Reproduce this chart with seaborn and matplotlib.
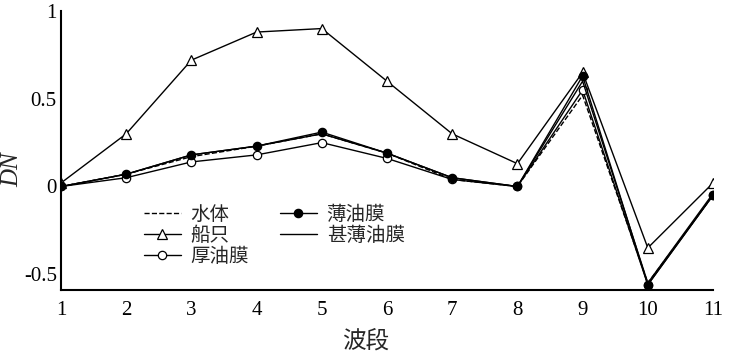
import matplotlib
matplotlib.use("Agg")
import matplotlib.pyplot as plt
import seaborn as sns
import pandas as pd

bands = [1, 2, 3, 4, 5, 6, 7, 8, 9, 10, 11]
water = [0.00, 0.07, 0.17, 0.23, 0.30, 0.19, 0.04, 0.00, 0.52, -0.55, -0.05]
ship = [0.02, 0.30, 0.72, 0.88, 0.90, 0.60, 0.30, 0.13, 0.65, -0.35, 0.02]
thick = [0.00, 0.05, 0.14, 0.18, 0.25, 0.16, 0.04, 0.00, 0.55, -0.56, -0.05]
thin = [0.00, 0.07, 0.18, 0.23, 0.31, 0.19, 0.05, 0.00, 0.63, -0.56, -0.05]
vthin = [0.00, 0.07, 0.18, 0.23, 0.30, 0.19, 0.05, 0.00, 0.60, -0.55, -0.04]
names = ["水体", "船只", "厚油膜", "薄油膜", "甚薄油膜"]
xticks = [1, 2, 3, 4, 5, 6, 7, 8, 9, 10, 11]
yticks = [-0.5, 0, 0.5, 1]
ytick_labels = ["-0.5", "0", "0.5", "1"]

sns.set_style("white")
plt.rcParams['font.family'] = ['Liberation Serif', 'Noto Sans CJK SC']

fig = plt.figure(figsize=(7.31, 3.55), dpi=100)
ax = fig.add_axes([0.0834, 0.183, 0.892, 0.786])

styles = [
    dict(linestyle='--', marker=None),
    dict(linestyle='-', marker='^', markerfacecolor='white', markeredgecolor='black', markersize=7),
    dict(linestyle='-', marker='o', markerfacecolor='white', markeredgecolor='black', markersize=6),
    dict(linestyle='-', marker='o', markerfacecolor='black', markeredgecolor='black', markersize=6),
    dict(linestyle='-', marker=None),
]
series = [water, ship, thick, thin, vthin]
for name, vals, st in zip(names, series, styles):
    df = pd.DataFrame({"band": bands, "DN": vals})
    sns.lineplot(data=df, x="band", y="DN", ax=ax, color='black', linewidth=1.0,
                 label=name, markeredgewidth=0.9, **st)

ax.set_xlim(1, 11)
ax.set_ylim(-0.59, 1.0)
ax.set_xticks(xticks)
ax.set_xticklabels([str(t) for t in xticks])
ax.set_yticks(yticks)
ax.set_yticklabels(ytick_labels)
ax.tick_params(direction='in', length=5, width=1.3, labelsize=15, colors='black', pad=3)
ax.tick_params(axis='x', pad=8)
for s in ['top', 'right']:
    ax.spines[s].set_visible(False)
for s in ['left', 'bottom']:
    ax.spines[s].set_linewidth(1.5)
    ax.spines[s].set_color('black')

ax.set_xlabel("波段", fontsize=17, family=['Noto Sans CJK SC'])
ax.xaxis.set_label_coords(0.468, -0.14)
ax.set_ylabel("DN", fontsize=18, style='italic')
ax.yaxis.set_label_coords(-0.058, 0.43)

leg = ax.legend(ncol=2, loc='lower left', bbox_to_anchor=(0.1, 0.02), frameon=False,
                prop={'family': ['Noto Sans CJK SC'], 'size': 14}, handlelength=1.9,
                labelspacing=0.0, columnspacing=1.6, handletextpad=0.5)

fig.savefig("out.png", dpi=100)
